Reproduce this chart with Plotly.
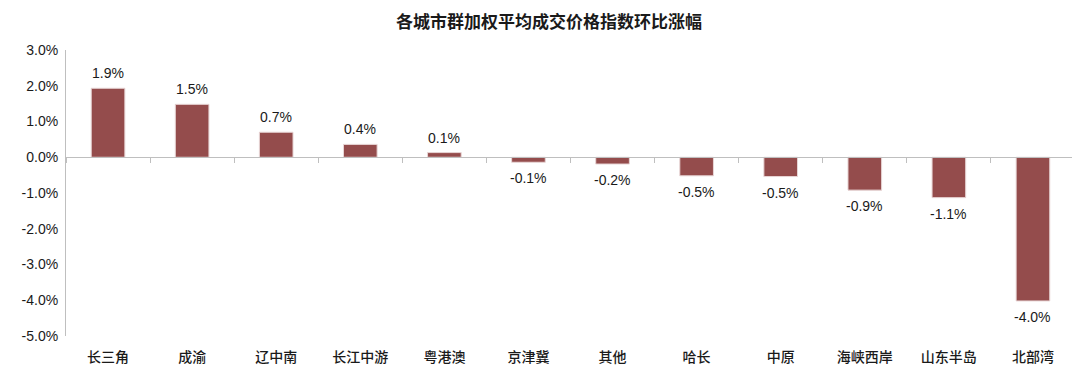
import plotly.graph_objects as go

categories = ["长三角", "成渝", "辽中南", "长江中游", "粤港澳", "京津冀", "其他",
              "哈长", "中原", "海峡西岸", "山东半岛", "北部湾"]
values = [1.93, 1.48, 0.70, 0.36, 0.13, -0.14, -0.19, -0.52, -0.54, -0.92, -1.13, -4.02]
y_tickvals = [3, 2, 1, 0, -1, -2, -3, -4, -5]
y_ticktext = ["3.0%", "2.0%", "1.0%", "0.0%", "-1.0%", "-2.0%", "-3.0%", "-4.0%", "-5.0%"]
title = "各城市群加权平均成交价格指数环比涨幅"

labels = [f"{v:.1f}%" for v in values]

# page body has an 8px margin, so the figure is sized to fit the 1080x381 window
W, H = 1072, 373

fig = go.Figure()
fig.add_trace(go.Bar(
    x=categories, y=values,
    marker=dict(color="#944C4C", line=dict(color="#E8D6D6", width=1)),
    hoverinfo="skip", showlegend=False,
))
# invisible trace to drive the zero-line axis with boundary ticks
fig.add_trace(go.Scatter(
    x=categories, y=[0] * len(categories), xaxis="x2", mode="markers",
    marker=dict(opacity=0), hoverinfo="skip", showlegend=False,
))

annotations = []
for c, v, t in zip(categories, values, labels):
    annotations.append(dict(
        x=c, y=v, xref="x", yref="y", text=t, showarrow=False,
        yshift=15 if v >= 0 else -16,
        font=dict(family="Liberation Sans, Arial", size=14, color="#1a1a1a"),
    ))

zero_pos = (0 - min(y_tickvals)) / (max(y_tickvals) - min(y_tickvals))

fig.update_layout(
    width=W, height=H,
    margin=dict(l=58, r=5, t=42, b=45),
    paper_bgcolor="white", plot_bgcolor="white",
    bargap=0.6,
    annotations=annotations,
    title=dict(text=f"<b>{title}</b>", x=541 / W, xanchor="center",
               y=1 - 14.5 / H, yanchor="middle",
               font=dict(family="Noto Sans CJK SC", size=17, color="#1a1a1a")),
    xaxis=dict(
        type="category", categoryorder="array", categoryarray=categories,
        range=[-0.5, len(categories) - 0.5],
        showline=False, showgrid=False, zeroline=False,
        ticks="outside", ticklen=8, tickcolor="rgba(0,0,0,0)",
        tickfont=dict(family="Noto Sans CJK SC", size=14, color="#1a1a1a", weight=500),
    ),
    xaxis2=dict(
        type="category", categoryorder="array", categoryarray=categories,
        range=[-0.5, len(categories) - 0.5],
        overlaying="x", anchor="free", position=zero_pos,
        showline=True, linecolor="#BFBFBF", linewidth=1,
        ticks="outside", tickson="boundaries", ticklen=5, tickcolor="#BFBFBF",
        showticklabels=False, showgrid=False, zeroline=False,
    ),
    yaxis=dict(
        range=[min(y_tickvals), max(y_tickvals)],
        tickvals=y_tickvals, ticktext=y_ticktext,
        showline=True, linecolor="#BFBFBF", linewidth=1,
        showgrid=False, zeroline=False, ticks="outside", ticklen=4,
        tickcolor="rgba(0,0,0,0)",
        tickfont=dict(family="Liberation Sans, Arial", size=14, color="#1a1a1a"),
    ),
)

fig.write_html("out.html")
